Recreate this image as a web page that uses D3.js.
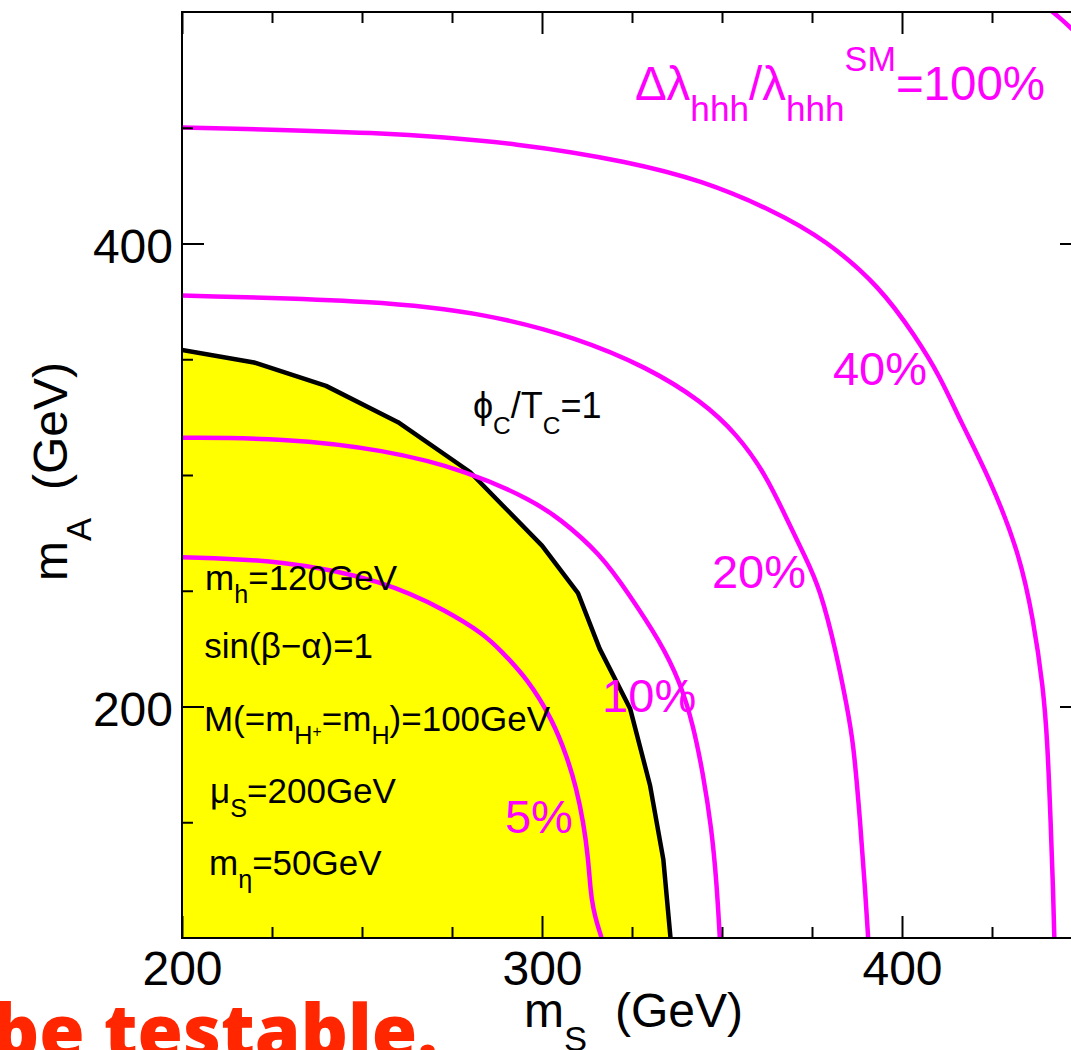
<!DOCTYPE html>
<html>
<head>
<meta charset="utf-8">
<script src="https://cdn.jsdelivr.net/npm/d3@7"></script>
<style>
  html, body { margin: 0; padding: 0; background: #fff; overflow: hidden; }
  svg { display: block; font-family: "Liberation Sans", Arial, Helvetica, sans-serif; }
</style>
</head>
<body>
<svg id="chart" width="1071" height="1050"></svg>
<script>
// Contours in the (mS, mA) plane, points are [mS, mA] in GeV.

// phi_C / T_C = 1 boundary (strong first-order transition below it)
const phiCOverTC = [
  [200, 354], [220, 348.6], [240, 338.5], [260, 322.8], [280, 301.3],
  [300, 269.5], [310, 249], [316, 225], [324.5, 199], [330, 166],
  [333.7, 134], [335.7, 100], [335.9, 97]
];

// Deviation of the hhh coupling from its SM value
const dev5 = [
  [200, 264.5], [228, 263.3], [256, 254.5], [274, 241], [284, 231],
  [288, 225], [296, 212], [303, 194], [307, 178], [309.5, 165],
  [311.5, 150], [312.8, 135], [313.5, 120], [314.2, 113], [315.3, 106],
  [316.6, 100], [317, 97]
];
const dev10 = [
  [200, 316.1], [228, 315.9], [256, 311.1], [280, 301.5], [297.6, 288.7],
  [304.6, 281.5], [316, 266.4], [324.4, 248], [332.8, 228.1], [338.3, 210.8],
  [342, 192.1], [344.8, 170.4], [347.1, 147.3], [348.5, 124.2], [349.4, 100],
  [349.5, 97]
];
const dev20 = [
  [200, 377.5], [255, 375.3], [284.8, 369.6], [309.6, 359.4], [329.4, 346.4],
  [344.3, 332], [354.2, 317.6], [362.1, 300.3], [368, 281], [373, 265],
  [377.2, 251.2], [381.9, 222.4], [384.6, 200.7], [386.5, 184.8], [388.4, 150],
  [389.8, 120], [390.6, 100], [390.7, 97]
];
const dev40 = [
  [200, 450.1], [255, 448.2], [294.7, 443.2], [324.4, 435.2], [344.3, 427.3],
  [364.1, 414.4], [379, 401.4], [393.9, 381.3], [403.8, 359.7], [410.6, 342.5],
  [416.1, 323.7], [424.6, 297.8], [432.6, 266.2], [436.5, 237.4], [439.2, 208.6],
  [440.4, 185], [441.3, 150], [442, 120], [442.3, 100], [442.4, 97]
];
const dev100 = [
  [439.5, 503], [443.5, 498], [447, 493], [451, 487]
];

const deviationCurves = [dev5, dev10, dev20, dev40, dev100];

// Axis ticks
const xMajorTicks = [200, 300, 400];
const xMinorTicks = [225, 250, 275, 325, 350, 375, 425];
const yMajorTicks = [200, 400];
const yMinorTicks = [150, 250, 300, 350, 450];

const FONT = '"Liberation Sans", Arial, Helvetica, sans-serif';
const MAGENTA = "#ff00ff";

const margin = { left: 182, top: 12 };
const W = 900, H = 926;

const x = d3.scaleLinear().domain([200, 450]).range([0, W]);
const y = d3.scaleLinear().domain([100, 500]).range([H, 0]);

const svg = d3.select("#chart");
const g = svg.append("g").attr("transform", `translate(${margin.left},${margin.top})`);

g.append("defs").append("clipPath").attr("id", "plot-clip")
  .append("rect").attr("width", W).attr("height", H);

const plot = g.append("g").attr("clip-path", "url(#plot-clip)");

// Yellow region under the phi_C/T_C = 1 line
plot.append("path")
  .datum(phiCOverTC)
  .attr("fill", "#ffff00")
  .attr("d", d3.area().x(d => x(d[0])).y0(H).y1(d => y(d[1])));

plot.append("path")
  .datum(phiCOverTC)
  .attr("fill", "none")
  .attr("stroke", "#000")
  .attr("stroke-width", 4.5)
  .attr("stroke-linejoin", "round")
  .attr("d", d3.line().x(d => x(d[0])).y(d => y(d[1])));

const smooth = d3.line().x(d => x(d[0])).y(d => y(d[1])).curve(d3.curveBasis);
plot.selectAll("path.dev")
  .data(deviationCurves)
  .join("path")
  .attr("class", "dev")
  .attr("fill", "none")
  .attr("stroke", MAGENTA)
  .attr("stroke-width", 4.5)
  .attr("d", smooth);

// Frame
g.append("rect")
  .attr("width", W).attr("height", H)
  .attr("fill", "none").attr("stroke", "#000").attr("stroke-width", 2);

function tickStyle(sel) {
  sel.select(".domain").remove();
  sel.selectAll(".tick line").attr("stroke", "#000").attr("stroke-width", 2);
}
function noLabels(sel) { sel.selectAll("text").remove(); }

// Bottom
g.append("g").attr("transform", `translate(0,${H})`)
  .call(d3.axisBottom(x).tickValues(xMajorTicks).tickSize(-22).tickFormat(d3.format("d")))
  .call(tickStyle)
  .call(s => s.selectAll("text")
    .attr("y", 47).attr("dy", null)
    .attr("font-size", 48).attr("font-family", FONT).attr("fill", "#000"));
g.append("g").attr("transform", `translate(0,${H})`)
  .call(d3.axisBottom(x).tickValues(xMinorTicks).tickSize(-11))
  .call(tickStyle).call(noLabels);

// Top
g.append("g")
  .call(d3.axisTop(x).tickValues(xMajorTicks).tickSize(-22))
  .call(tickStyle).call(noLabels);
g.append("g")
  .call(d3.axisTop(x).tickValues(xMinorTicks).tickSize(-11))
  .call(tickStyle).call(noLabels);

// Left
g.append("g")
  .call(d3.axisLeft(y).tickValues(yMajorTicks).tickSize(-22).tickFormat(d3.format("d")))
  .call(tickStyle)
  .call(s => s.selectAll("text")
    .attr("x", -9).attr("dy", "0.4em")
    .attr("font-size", 48).attr("font-family", FONT).attr("fill", "#000"));
g.append("g")
  .call(d3.axisLeft(y).tickValues(yMinorTicks).tickSize(-11))
  .call(tickStyle).call(noLabels);

// Right
g.append("g").attr("transform", `translate(${W},0)`)
  .call(d3.axisRight(y).tickValues(yMajorTicks).tickSize(-22))
  .call(tickStyle).call(noLabels);
g.append("g").attr("transform", `translate(${W},0)`)
  .call(d3.axisRight(y).tickValues(yMinorTicks).tickSize(-11))
  .call(tickStyle).call(noLabels);

// Text with sub/superscripts: parts are [text, sizeFactor, shiftEm (down +), dxPx]
function rich(parent, px, py, parts, size, color, transform) {
  const t = parent.append("text")
    .attr("font-family", FONT)
    .attr("font-size", size)
    .attr("fill", color);
  if (transform) t.attr("transform", transform);
  else t.attr("x", px).attr("y", py);
  let cur = 0;
  parts.forEach(([str, scale, shift, dx]) => {
    const ts = t.append("tspan").text(str).attr("font-size", size * scale);
    const d = (shift - cur) * size;
    if (d) ts.attr("dy", d.toFixed(2));
    if (dx) ts.attr("dx", dx);
    cur = shift;
  });
  return t;
}

const labels = g.append("g");

// Contour labels
const pctSize = 47;
rich(labels, x(289.7), y(145.3), [["5%", 1, 0]], pctSize, MAGENTA);
rich(labels, x(316.7), y(197.6), [["10%", 1, 0]], pctSize, MAGENTA);
rich(labels, x(347.2), y(251.0), [["20%", 1, 0]], pctSize, MAGENTA);
rich(labels, x(380.8), y(338.9), [["40%", 1, 0]], pctSize, MAGENTA);
rich(labels, x(325.8), y(462.0), [
  ["Δλ", 1, 0], ["hhh", 0.74, 0.44], ["/λ", 1, 0], ["hhh", 0.74, 0.44],
  ["SM", 0.72, -0.6], ["=100%", 1, 0]
], 47.5, MAGENTA);

rich(labels, x(280.8), y(324.6), [
  ["ϕ", 1, 0], ["C", 0.68, 0.45], ["/T", 1, 0], ["C", 0.68, 0.45], ["=1", 1, 0]
], 36, "#000");

// Parameter block
const pSize = 35;
rich(labels, x(206.4), y(250.3), [["m", 1, 0], ["h", 0.72, 0.38], ["=120GeV", 1, 0]], pSize, "#000");
rich(labels, x(206.2), y(221.0), [["sin(β−α)=1", 1, 0]], pSize, "#000");
rich(labels, x(206.1), y(189.4), [
  ["M(=m", 1, 0], ["H", 0.72, 0.36], ["+", 0.45, 0.16], ["=m", 1, 0],
  ["H", 0.72, 0.36], [")=100GeV", 1, 0]
], pSize, "#000");
rich(labels, x(207.8), y(158.3), [["μ", 1, 0], ["S", 0.72, 0.4], ["=200GeV", 1, 0]], pSize, "#000");
rich(labels, x(207.5), y(127.2), [["m", 1, 0], ["η", 0.72, 0.38], ["=50GeV", 1, 0]], pSize, "#000");

// Axis titles
rich(svg, 524, 1027, [["m", 1, 0], ["S", 0.72, 0.5], ["(GeV)", 1, 0, 28]], 48, "#000");
rich(svg, 0, 0, [["m", 1, 0], ["A", 0.72, 0.5], ["(GeV)", 1, 0, 28]], 48, "#000",
  "translate(67,581) rotate(-90)");

// Slide caption running along the bottom edge
svg.append("text")
  .attr("x", -8).attr("y", 1058)
  .attr("font-family", "'Open Sans', Lato, sans-serif")
  .attr("font-weight", 800)
  .attr("font-size", 73.5)
  .attr("fill", "#ff2600")
  .text("be testable.");
</script>
</body>
</html>
